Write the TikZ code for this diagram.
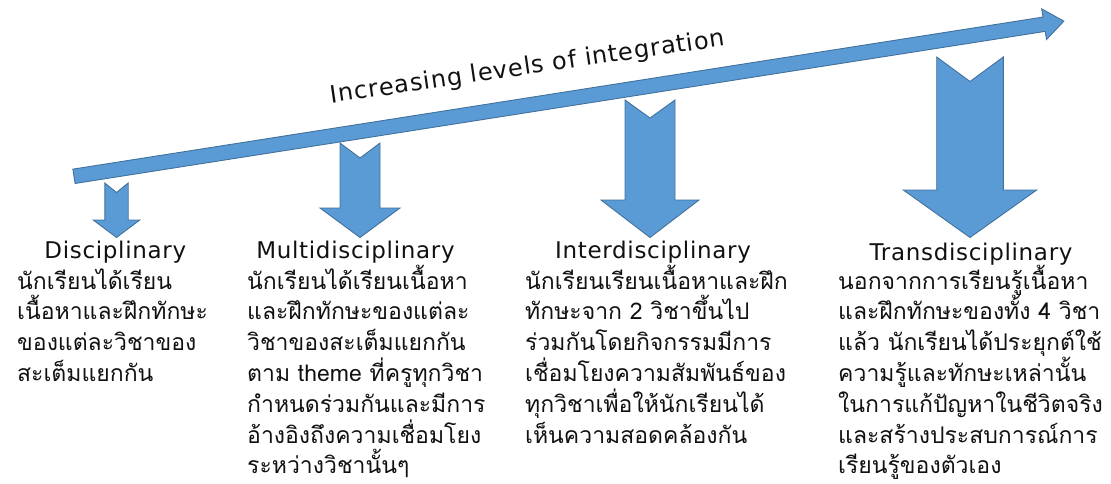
\documentclass[tikz,border=0pt]{standalone}
\usepackage{fontspec}
\usepackage{tikz}
\newfontfamily\thaifont[Script=Thai]{Loma}
\newfontfamily\headfont[LetterSpace=3]{DejaVu Sans}
\newfontfamily\ttlfont[LetterSpace=4]{DejaVu Sans}
\definecolor{ink}{HTML}{111111}
\definecolor{afill}{HTML}{5B9BD5}
\definecolor{adraw}{HTML}{41719C}
\tikzset{
  blk/.style={fill=afill,draw=adraw,line width=0.9pt,line join=miter},
  head/.style={font=\headfont\fontsize{23}{26}\selectfont,text=ink,anchor=base,inner sep=0pt},
  ttl/.style={head,font=\ttlfont\fontsize{24}{28}\selectfont,rotate=8.3},
  body/.style={font=\thaifont\fontsize{23}{30.8}\selectfont,text=ink,align=left,
    anchor=base west,inner sep=0pt}
}
\begin{document}
\begin{tikzpicture}[x=1pt,y=1pt]
  \useasboundingbox (0,0) rectangle (1111,-484);
  % rising arrow
  \begin{scope}[shift={(74,-176.3)},rotate=8.91]
    \filldraw[blk] (0,-7.25) -- (982,-7.25) -- (982,-15.5) -- (1002,0) -- (982,15.5)
      -- (982,7.25) -- (0,7.25) -- cycle;
  \end{scope}
  \node[ttl] (ttl) at (529,-74.3) {Increasing levels of integration};
  % notched arrows, growing to the right
  \foreach \cx/\ty/\nd/\hb/\sw/\hw in {116.5/183/9.5/220/11.7/23.3,360/143/15/208/20/40,
    650/100/18/200/25/49,970/57/24.5/190/33.3/66.7}{%
    \filldraw[blk] (\cx-\sw,-\ty) -- (\cx,-\ty-\nd) -- (\cx+\sw,-\ty) -- (\cx+\sw,-\hb)
      -- (\cx+\hw,-\hb) -- (\cx,-237.5) -- (\cx-\hw,-\hb) -- (\cx-\sw,-\hb) -- cycle;}
  % headings
  \node[head] (hdis) at (115.3,-258) {Disciplinary};
  \node[head] (hmul) at (355.5,-258) {Multidisciplinary};
  \node[head] (hint) at (653,-258)   {Interdisciplinary};
  \node[head] (htra) at (971,-260)   {Transdisciplinary};
  % descriptions (anchored at the last line)
  \node[body] (tdis) at (17,-381.4) {นักเรียนได้เรียน\\เนื้อหาและฝึกทักษะ\\ของแต่ละวิชาของ\\สะเต็มแยกกัน};
  \node[body] (tmul) at (247,-473.8) {นักเรียนได้เรียนเนื้อหา\\และฝึกทักษะของแต่ละ\\วิชาของสะเต็มแยกกัน\\ตาม theme ที่ครูทุกวิชา\\กำหนดร่วมกันและมีการ\\อ้างอิงถึงความเชื่อมโยง\\ระหว่างวิชานั้นๆ};
  \node[body] (tint) at (525,-443) {นักเรียนเรียนเนื้อหาและฝึก\\ทักษะจาก 2 วิชาขึ้นไป\\ร่วมกันโดยกิจกรรมมีการ\\เชื่อมโยงความสัมพันธ์ของ\\ทุกวิชาเพื่อให้นักเรียนได้\\เห็นความสอดคล้องกัน};
  \node[body] (ttra) at (838,-473.8) {นอกจากการเรียนรู้เนื้อหา\\และฝึกทักษะของทั้ง 4 วิชา\\แล้ว นักเรียนได้ประยุกต์ใช้\\ความรู้และทักษะเหล่านั้น\\ในการแก้ปัญหาในชีวิตจริง\\และสร้างประสบการณ์การ\\เรียนรู้ของตัวเอง};
\end{tikzpicture}
\end{document}
